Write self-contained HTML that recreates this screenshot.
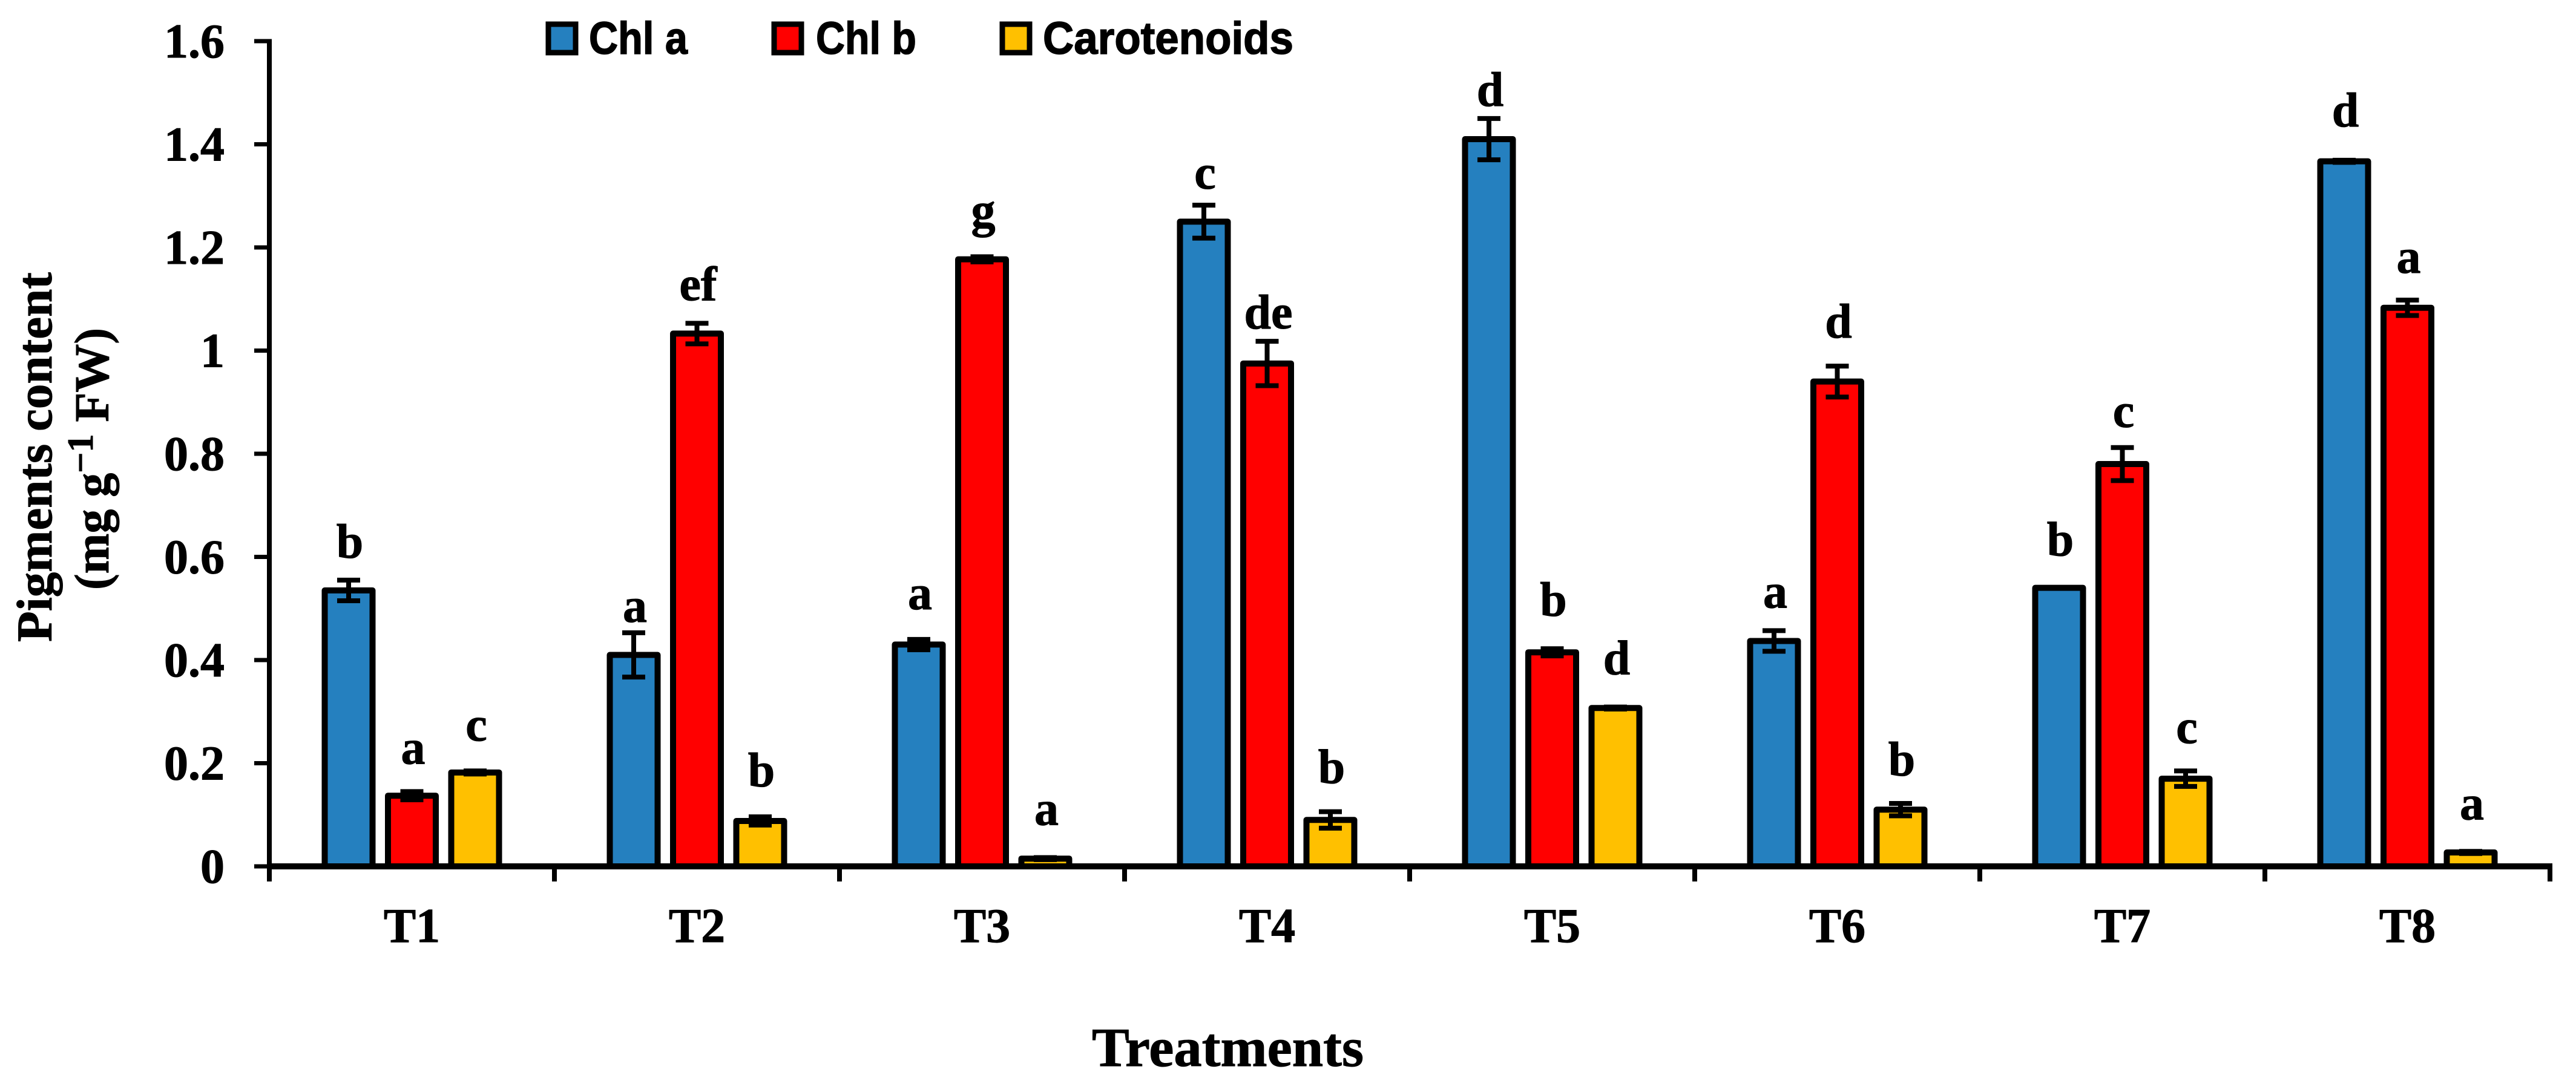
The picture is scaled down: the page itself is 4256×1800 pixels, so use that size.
<!DOCTYPE html>
<html lang="en">
<head>
<meta charset="utf-8">
<title>Pigments content by treatment</title>
<style>
html,body{margin:0;padding:0;background:#fff;}
svg{display:block;}
text{font-family:"Liberation Serif",serif;font-weight:bold;fill:#000;stroke:#000;stroke-width:1;}
.leg{font-family:"Liberation Sans",sans-serif;font-size:75px;stroke-width:1.5;}
</style>
</head>
<body>
<svg id="chart" xmlns="http://www.w3.org/2000/svg" width="4256" height="1800" viewBox="0 0 4256 1800">
  <rect x="0" y="0" width="4256" height="1800" fill="#fff"/>
  <g id="marks"></g>
  <g id="axes"></g>
  <g>
    <rect x="906" y="40" width="45" height="47" fill="#2580BF" stroke="#000" stroke-width="9"/>
    <text class="leg" x="973" y="89" textLength="163" lengthAdjust="spacingAndGlyphs">Chl a</text>
    <rect x="1279" y="40" width="45" height="47" fill="#FF0000" stroke="#000" stroke-width="9"/>
    <text class="leg" x="1348" y="89" textLength="166" lengthAdjust="spacingAndGlyphs">Chl b</text>
    <rect x="1656" y="40" width="45" height="47" fill="#FFC000" stroke="#000" stroke-width="9"/>
    <text class="leg" x="1723" y="89" textLength="414" lengthAdjust="spacingAndGlyphs">Carotenoids</text>
  </g>
  <text transform="translate(85,1061) rotate(-90)" font-size="83">Pigments content</text>
  <text transform="translate(179,975) rotate(-90)" font-size="80">(mg g<tspan dy="-26" font-size="60">−1</tspan><tspan dy="26"> FW)</tspan></text>
  <text x="1804" y="1762" font-size="91" textLength="449" lengthAdjust="spacingAndGlyphs">Treatments</text>
</svg>
<script>
// ---- chart data ----
const categories = ["T1","T2","T3","T4","T5","T6","T7","T8"];
const seriesNames = ["Chl a","Chl b","Carotenoids"];
const chlA = [0.535,0.41,0.43,1.25,1.41,0.437,0.54,1.367];
const chlB = [0.137,1.033,1.177,0.975,0.415,0.94,0.78,1.083];
const carotenoids = [0.182,0.088,0.015,0.09,0.307,0.11,0.17,0.027];
const chlAErr = [0.02,0.043,0.01,0.032,0.04,0.02,0,0.002];
const chlBErr = [0.008,0.02,0.005,0.043,0.007,0.03,0.032,0.015];
const carotenoidsErr = [0.003,0.008,0.002,0.016,0.002,0.012,0.015,0.002];
const chlALetters = ["b","a","a","c","d","a","b","d"];
const chlBLetters = ["a","ef","g","de","b","d","c","a"];
const carotenoidsLetters = ["c","b","a","b","d","b","c","a"];
const yTickLabels = ["0","0.2","0.4","0.6","0.8","1","1.2","1.4","1.6"];

// ---- layout (not data) ----
const SVGNS = "http://www.w3.org/2000/svg";
const X0 = 445, X1 = 4213, Y0 = 1432, YTOP = 68, YMAX = 1.6;
const BAR_W = 79, BAR_PITCH = 104.5, STROKE = 10, CAP = 38, ERR_W = 8;
const fills = ["#2580BF","#FF0000","#FFC000"];
const chlAGap = [33,14,46,23,17,34,49,52];
const chlBGap = [42,34,46,17,50,43,30,41];
const carotenoidsGap = [46,46,50,43,50,42,42,49];

function xBand(i){ return X0 + (i + 0.5) * (X1 - X0) / categories.length; }
function yPos(v){ return Y0 - v * (Y0 - YTOP) / YMAX; }
function add(parent, tag, attrs){
  const el = document.createElementNS(SVGNS, tag);
  for (const k in attrs) el.setAttribute(k, attrs[k]);
  parent.appendChild(el);
  return el;
}
const marks = document.getElementById("marks");
const axes = document.getElementById("axes");
const values = [chlA, chlB, carotenoids];
const errors = [chlAErr, chlBErr, carotenoidsErr];
const letters = [chlALetters, chlBLetters, carotenoidsLetters];
const gaps = [chlAGap, chlBGap, carotenoidsGap];

values.forEach(function(vals, s){
  vals.forEach(function(v, i){
    const cx = xBand(i) + (s - 1) * BAR_PITCH;
    const top = yPos(v);
    const bar = add(marks, "rect", {x:cx-BAR_W/2, y:top, width:BAR_W, height:Y0-top, fill:fills[s], stroke:"#000", "stroke-width":STROKE, "stroke-linejoin":"round"});
    
    
    const e = errors[s][i];
    const hi = yPos(v + e), lo = yPos(v - e);
    if (e > 0) {
      const err = add(marks, "path", {d:"M"+cx+" "+hi+"V"+lo+"M"+(cx-CAP/2)+" "+hi+"H"+(cx+CAP/2)+"M"+(cx-CAP/2)+" "+lo+"H"+(cx+CAP/2), fill:"none", stroke:"#000", "stroke-width":ERR_W});
      
      
    }
    const lab = add(marks, "text", {x:cx+2, y:hi-gaps[s][i]-ERR_W/2, "font-size":80, "text-anchor":"middle"});
    lab.textContent = letters[s][i];
    
    
  });
});

// axis lines
const yLine = add(axes, "line", {x1:X0, y1:YTOP-3.5, x2:X0, y2:Y0+4, stroke:"#000", "stroke-width":8});


const xLine = add(axes, "line", {x1:X0, y1:Y0, x2:X1+4, y2:Y0, stroke:"#000", "stroke-width":10});



yTickLabels.forEach(function(t){
  const y = yPos(parseFloat(t));
  const tick = add(axes, "line", {x1:420, y1:y, x2:X0, y2:y, stroke:"#000", "stroke-width":7});
  
  
  const lab = add(axes, "text", {x:371, y:y+27, "font-size":80, "text-anchor":"end"});
  lab.textContent = t;
  
  
});

for (let i = 0; i <= categories.length; i++) {
  const x = X0 + i * (X1 - X0) / categories.length;
  const tick = add(axes, "line", {x1:x, y1:Y0, x2:x, y2:1457, stroke:"#000", "stroke-width":8});
  
  
}
categories.forEach(function(c, i){
  const lab = add(axes, "text", {x:xBand(i), y:1557, "font-size":80, "text-anchor":"middle"});
  lab.textContent = c;
  
  
});
</script>
</body>
</html>
